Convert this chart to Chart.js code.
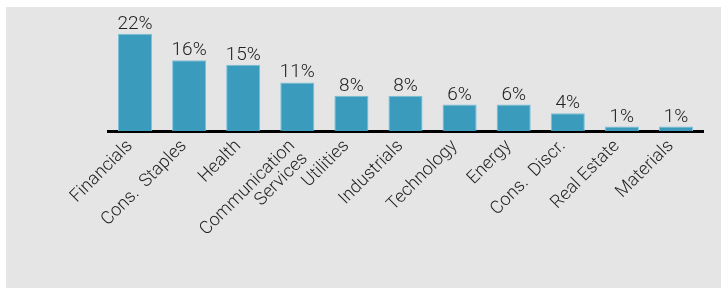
<!DOCTYPE html>
<html>
<head>
<meta charset="utf-8">
<script src="https://cdn.jsdelivr.net/npm/chart.js@4.4.1/dist/chart.umd.min.js"></script>
<style>
  html, body { margin: 0; padding: 0; background: #fff; }
  body { width: 721px; height: 291px; position: relative; overflow: hidden; }
  #panel { position: absolute; left: 6px; top: 7px; width: 715px; height: 281px; background: #e5e5e5; }
  #wrap { position: absolute; left: 0; top: 0; width: 721px; height: 291px; }
</style>
</head>
<body>
<div id="panel"></div>
<div id="wrap"><canvas id="sectorChart" width="721" height="291"></canvas></div>
<script>
// ── DATA ──
const SECTORS = [
  'Financials', 'Cons.  Staples', 'Health', ['Communication', 'Services'],
  'Utilities', 'Industrials', 'Technology', 'Energy', 'Cons.  Discr.',
  'Real Estate', 'Materials'
];
const WEIGHTS = [22, 16, 15, 11, 8, 8, 6, 6, 4, 1, 1];

const BAR_COLOR = '#3a9bbc';
const AXIS_Y = 131;

// value labels on top of the bars
const valueLabels = {
  id: 'valueLabels',
  afterDatasetsDraw(chart) {
    const { ctx } = chart;
    const meta = chart.getDatasetMeta(0);
    ctx.save();
    ctx.font = '300 19px Roboto';
    ctx.fillStyle = '#222';
    ctx.textAlign = 'center';
    ctx.textBaseline = 'alphabetic';
    meta.data.forEach((bar, i) => {
      ctx.fillText(WEIGHTS[i] + '%', bar.x, bar.y - 5);
    });
    ctx.restore();
  }
};

new Chart(document.getElementById('sectorChart'), {
  type: 'bar',
  data: {
    labels: SECTORS,
    datasets: [{
      data: WEIGHTS,
      backgroundColor: BAR_COLOR,
      borderColor: '#7cc0d8',
      borderWidth: 1,
      categoryPercentage: 1,
      barPercentage: 0.63,
    }]
  },
  options: {
    responsive: false,
    animation: false,
    layout: { padding: { left: 108, right: 18, top: 25, bottom: 0 } },
    plugins: { legend: { display: false }, tooltip: { enabled: false } },
    scales: {
      x: {
        grid: { display: false, drawTicks: false },
        border: { color: '#000', width: 3 },
        afterFit: s => { s.height = 291 - AXIS_Y; },
        ticks: {
          color: '#222',
          font: { family: 'Roboto', size: 18, weight: '300', lineHeight: 1 },
          maxRotation: 45, minRotation: 45,
          padding: 6,
          labelOffset: -5,
          autoSkip: false,
        }
      },
      y: {
        display: false,
        min: 0, max: 24,
      }
    }
  },
  plugins: [valueLabels]
});
</script>
</body>
</html>
